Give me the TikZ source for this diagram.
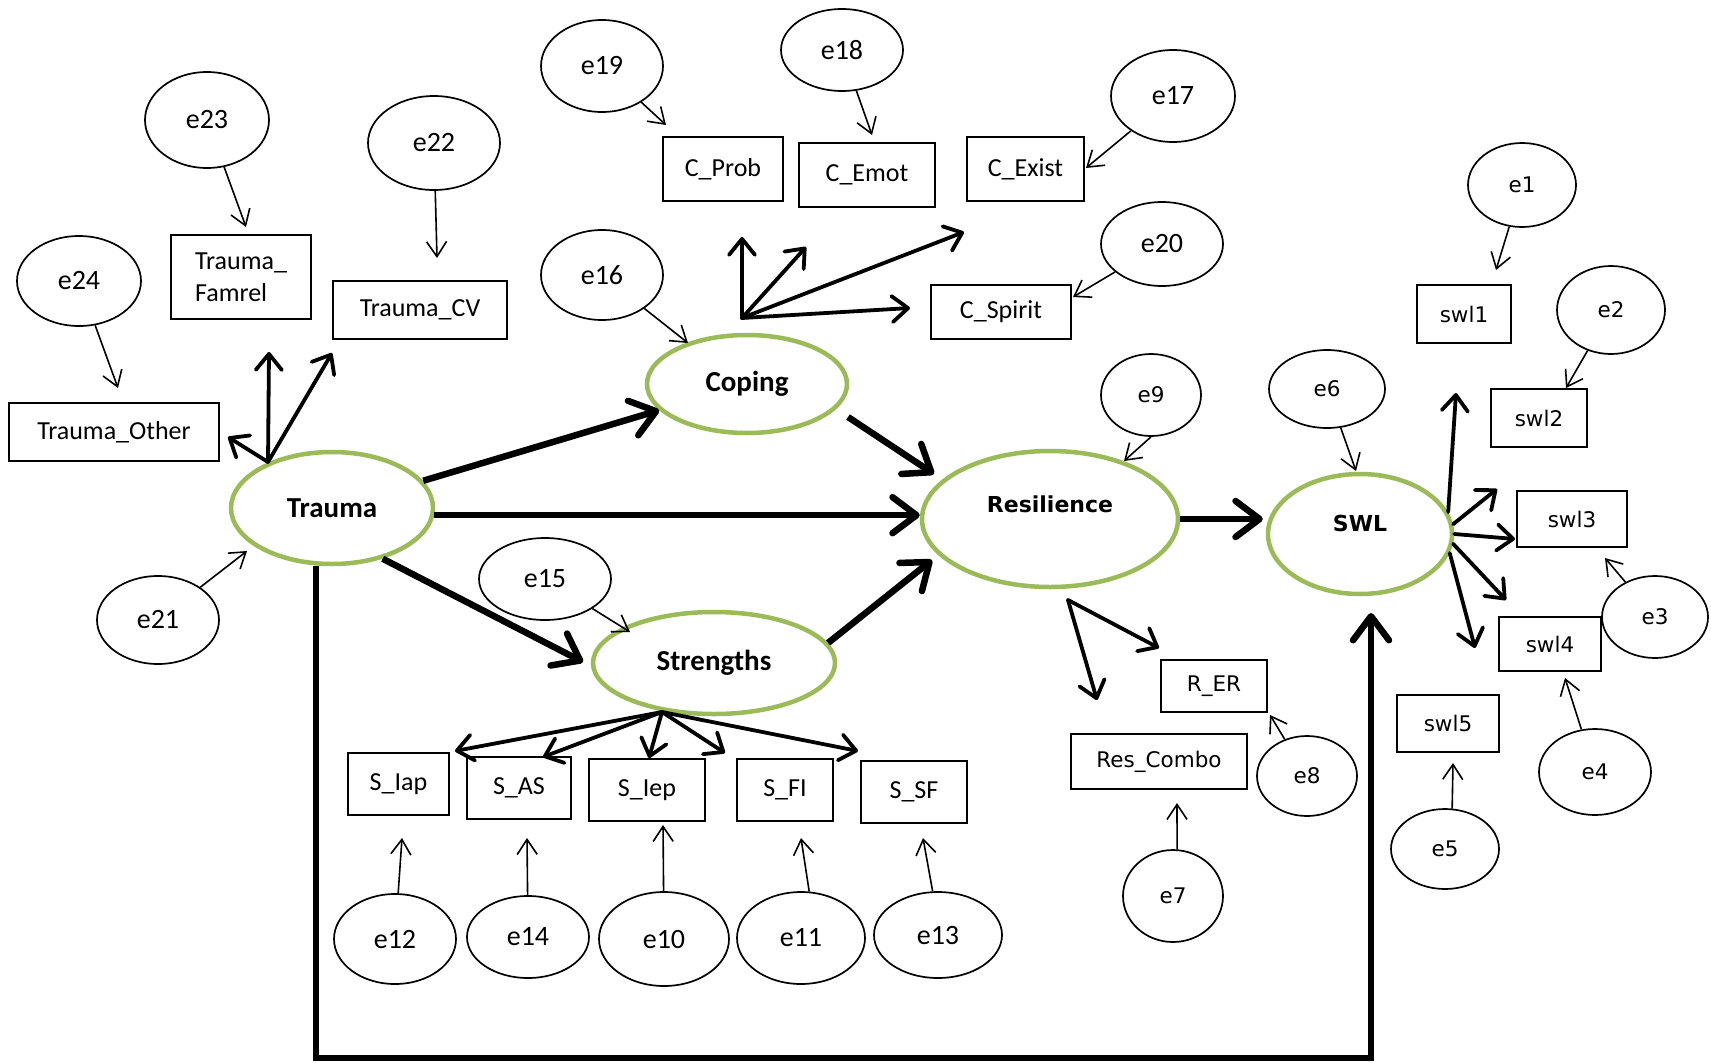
\documentclass[tikz,border=0pt]{standalone}
\usepackage{fontspec}
\setmainfont{Carlito}
\newfontfamily\vfont{DejaVu Sans}
\usetikzlibrary{shapes.geometric,arrows.meta}
\definecolor{latentgreen}{RGB}{155,187,89}
\begin{document}
\begin{tikzpicture}[x=1pt,y=-1pt,
  es/.style 2 args={minimum width=#1pt, minimum height=#2pt},
  box/.style={draw, line width=1.3pt, rectangle, inner sep=0pt},
  err/.style={draw, line width=1.7pt, ellipse, inner sep=0pt},
  latent/.style={draw=latentgreen, line width=4.5pt, ellipse, inner sep=0pt},
  cal/.style={font=\fontsize{26}{32}\selectfont},
  cale/.style={font=\fontsize{28}{32}\selectfont},
  calb/.style={font=\bfseries\fontsize{29}{33}\selectfont},
  ver/.style={font=\vfont\fontsize{21.5}{25}\selectfont},
  verb/.style={font=\vfont\bfseries\fontsize{22}{26}\selectfont},
  thinarr/.style={line width=1.6pt, -{Straight Barb[length=15pt,width=20pt]}},
  fanarr/.style={line width=3.8pt, line cap=round, -{Straight Barb[length=16pt,width=26pt,round]}},
  bigarr/.style={line width=6.5pt, -{Straight Barb[length=24pt,width=36pt,round]},
    preaction={draw=black!18, transform canvas={shift={(2pt,-2.5pt)}}}},
]
\useasboundingbox (0,0) rectangle (1711,1063);

% ---------- latent variables ----------
\node[latent, calb, es={202}{112}] (trauma) at (332,508) {Trauma};
\node[latent, calb, es={200}{98}] (coping) at (747,384) {Coping};
\node[latent, calb, es={242}{102}] (strengths) at (714,663) {Strengths};
\node[latent, es={256}{136}, label={[verb,yshift=15pt]center:Resilience}] (res) at (1050,519) {};
\node[latent, es={184}{120}, label={[verb,yshift=11pt]center:SWL}] (swl) at (1360,534) {};

% ---------- observed indicators ----------
\node[box, cal, es={210}{58}] (tother) at (114,432) {Trauma\_Other};
\node[box, cal, es={140}{84}, align=left] (tfam) at (241,277) {Trauma\_\\Famrel};
\node[box, cal, es={174}{58}] (tcv) at (420,310) {Trauma\_CV};
\node[box, cal, es={120}{64}] (cprob) at (723,169) {C\_Prob};
\node[box, cal, es={136}{64}] (cemot) at (867,175) {C\_Emot};
\node[box, cal, es={117}{64}] (cexist) at (1025.5,169) {C\_Exist};
\node[box, cal, es={140}{54}] (cspirit) at (1001,312) {C\_Spirit};
\node[box, cal, es={101}{62}] (siap) at (398.5,784) {S\_Iap};
\node[box, cal, es={104}{62}] (sas) at (519,788) {S\_AS};
\node[box, cal, es={116}{62}] (siep) at (647,790) {S\_Iep};
\node[box, cal, es={96}{62}] (sfi) at (785,790) {S\_FI};
\node[box, cal, es={106}{62}] (ssf) at (914,792) {S\_SF};
\node[box, ver, es={106}{52}] (rer) at (1214,686) {R\_ER};
\node[box, ver, es={176}{55}] (rcombo) at (1159,761.5) {Res\_Combo};
\node[box, ver, es={94}{58}] (swl1) at (1464,314) {swl1};
\node[box, ver, es={96}{58}] (swl2) at (1539,418) {swl2};
\node[box, ver, es={110}{56}] (swl3) at (1572,519) {swl3};
\node[box, ver, es={102}{54}] (swl4) at (1550,644) {swl4};
\node[box, ver, es={102}{57}] (swl5) at (1448,723.5) {swl5};

% ---------- error terms ----------
\node[err, cale, es={124}{96}] (e23) at (207,120) {e23};
\node[err, cale, es={132}{94}] (e22) at (434,143) {e22};
\node[err, cale, es={124}{90}] (e24) at (79,281) {e24};
\node[err, cale, es={122}{92}] (e19) at (602,66) {e19};
\node[err, cale, es={122}{90}] (e16) at (602,275) {e16};
\node[err, cale, es={122}{82}] (e18) at (842,50) {e18};
\node[err, cale, es={124}{92}] (e17) at (1173,96) {e17};
\node[err, cale, es={122}{84}] (e20) at (1162,244) {e20};
\node[err, cale, es={122}{88}] (e21) at (158,620) {e21};
\node[err, cale, es={132}{82}] (e15) at (545,579) {e15};
\node[err, cale, es={122}{90}] (e12) at (395,939) {e12};
\node[err, cale, es={122}{82}] (e14) at (528,937) {e14};
\node[err, cale, es={130}{94}] (e10) at (664,939) {e10};
\node[err, cale, es={128}{92}] (e11) at (801,938) {e11};
\node[err, cale, es={128}{86}] (e13) at (938,935) {e13};
\node[err, ver, es={100}{82}] (e9) at (1151,395) {e9};
\node[err, ver, es={116}{78}] (e6) at (1327,389) {e6};
\node[err, ver, es={108}{84}] (e1) at (1522,185) {e1};
\node[err, ver, es={108}{88}] (e2) at (1611,310) {e2};
\node[err, ver, es={106}{82}] (e3) at (1655,617) {e3};
\node[err, ver, es={112}{86}] (e4) at (1595,772) {e4};
\node[err, ver, es={108}{80}] (e5) at (1445,849) {e5};
\node[err, ver, es={100}{80}] (e8) at (1307,776) {e8};
\node[err, ver, es={100}{92}] (e7) at (1173,896) {e7};

% ---------- free arrow ends ----------
\coordinate (t23) at (246,227);  \coordinate (t22) at (437,258);
\coordinate (t24) at (118,388);  \coordinate (t19) at (666,125);
\coordinate (t16) at (688,343);  \coordinate (t18) at (872,135);
\coordinate (t17) at (1086,168); \coordinate (t20) at (1073,297);
\coordinate (t21) at (247,551);  \coordinate (t15) at (630,632);
\coordinate (t12) at (402,838);  \coordinate (t14) at (527,838);
\coordinate (t10) at (663,825);  \coordinate (t11) at (801,838);
\coordinate (t13) at (923,838);  \coordinate (t9) at (1124,461);
\coordinate (t6) at (1356,471);  \coordinate (t1) at (1496,270);
\coordinate (t2) at (1566,388);  \coordinate (t3) at (1605,558);
\coordinate (t4) at (1565,678);  \coordinate (t5) at (1453,763);
\coordinate (t8) at (1270,715);  \coordinate (t7) at (1177,803);

\coordinate (tfan) at (268,462);
\coordinate (ta) at (269,352); \coordinate (tb) at (332,353); \coordinate (tc) at (228,437);
\coordinate (cfan) at (742,318);
\coordinate (ca) at (742,237); \coordinate (cb) at (806,247);
\coordinate (cc) at (964,232); \coordinate (cd) at (910,308);
\coordinate (sfan) at (662,712);
\coordinate (sa) at (455,751); \coordinate (sb) at (543,757); \coordinate (sc) at (649,758);
\coordinate (sd) at (725,753); \coordinate (se) at (858,751);
\coordinate (rfan) at (1068,600);
\coordinate (ra) at (1097,700); \coordinate (rb) at (1159,648);
\coordinate (wa) at (1456,393); \coordinate (wb) at (1497,489); \coordinate (wc) at (1515,539);
\coordinate (wd) at (1506,600); \coordinate (we) at (1475,648);

\coordinate (crstart) at (848,417); \coordinate (crtip) at (934,474);
\coordinate (srtip) at (932,560);  \coordinate (tstip) at (583,662);
\coordinate (fbL) at (316,1058); \coordinate (fbR) at (1371,1058); \coordinate (fbtip) at (1371,613);

% ---------- error arrows ----------
\foreach \e in {23,22,24,19,16,18,17,20,21,15,12,14,10,6,1,2,3,4,8}
  \draw[thinarr] (e\e) -- (t\e);
\draw[thinarr] (e11.80) -- (t11);
\draw[thinarr] (e13.97) -- (t13);
\draw[thinarr] (e9.south) -- (t9);
\draw[thinarr] (e5.80) -- (t5);
\draw[thinarr] (e7.85) -- (t7);

% ---------- loadings ----------
\foreach \t in {ta,tb,tc} \draw[fanarr] (tfan) -- (\t);
\foreach \t in {ca,cb,cc,cd} \draw[fanarr] (cfan) -- (\t);
\foreach \t in {sa,sb,sc,sd,se} \draw[fanarr] (sfan) -- (\t);
\foreach \t in {ra,rb} \draw[fanarr] (rfan) -- (\t);
\draw[fanarr] (swl.14) -- (wa);
\draw[fanarr] (swl.6) -- (wb);
\draw[fanarr] (swl.east) -- (wc);
\draw[fanarr] (swl.-6) -- (wd);
\draw[fanarr] (swl.-12) -- (we);

% ---------- structural paths ----------
\draw[bigarr] (trauma) -- (coping);
\draw[bigarr] (trauma.-4) -- (trauma.-4 -| res.west);
\draw[bigarr] (trauma.-45) -- (tstip);
\draw[bigarr] (crstart) -- (crtip);
\draw[bigarr] (strengths.10) -- (srtip);
\draw[bigarr, shorten >=3pt] (res.east) -- (res.east -| swl.west);
\draw[bigarr] (trauma.south -| fbL) -- (fbL) -- (fbR) -- (fbtip);
\end{tikzpicture}
\end{document}
